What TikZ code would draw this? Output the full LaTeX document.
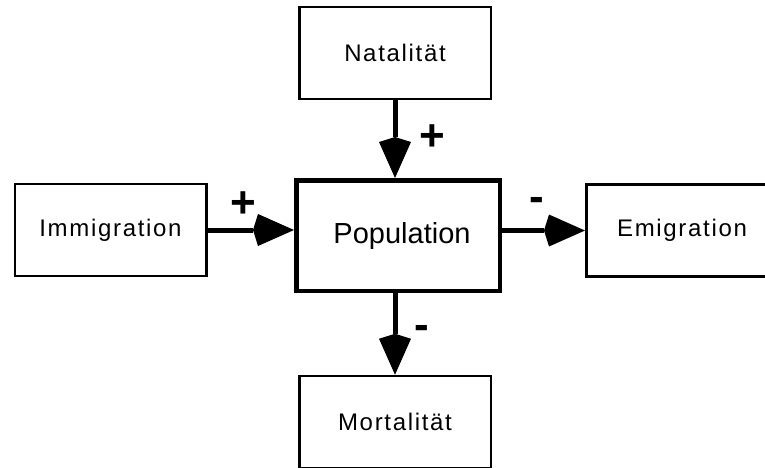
\documentclass[tikz,border=0pt]{standalone}
\usepackage{fontspec}
\setmainfont{Liberation Sans}
\newfontfamily\labelfont[LetterSpace=7]{Liberation Sans}
\usetikzlibrary{arrows.meta,positioning}

\begin{document}
\begin{tikzpicture}[x=1pt, y=-1pt,
    >={Stealth[length=36pt, width=32pt, inset=-5pt, line width=0pt]},
    box/.style={draw, line width=2.5pt, minimum width=191.5pt, minimum height=92pt, inner sep=0pt,
      font=\labelfont\fontsize{24}{28}\selectfont},
    flow/.style={->, line width=5pt},
    sign/.style={inner sep=0pt, font=\fontsize{44}{44}\selectfont\bfseries}]
  \useasboundingbox (0,0) rectangle (765,467);
  % centre box
  \node[box, line width=4.5pt, minimum width=203.5pt, minimum height=110.5pt,
    font=\fontsize{29}{33}\selectfont] (pop) at (398,235.5) {\hspace{8pt}Population};
  % inflows and outflows
  \node[box] (nat) at (395,53) {Natalität};
  \node[box] (imm) at (110.5,230) {Immigration};
  \node[box] (emi) at (682,230.5) {Emigration};
  \node[box] (mort) at (395,422) {Mortalität};
  \draw[flow] (nat.south) -- (nat.south |- pop.north);
  \draw[flow] (imm.east) -- (imm.east -| pop.west);
  \draw[flow] (pop.east |- emi.west) -- (emi.west);
  \draw[flow] (mort.north |- pop.south) -- (mort.north);
  \node[sign] (natsign) at (432,138) {+};
  \node[sign] (immsign) at (243,205) {+};
  \node[sign] (emisign) at (537,204) {-};
  \node[sign] (mortsign) at (422,332) {-};
\end{tikzpicture}
\end{document}
